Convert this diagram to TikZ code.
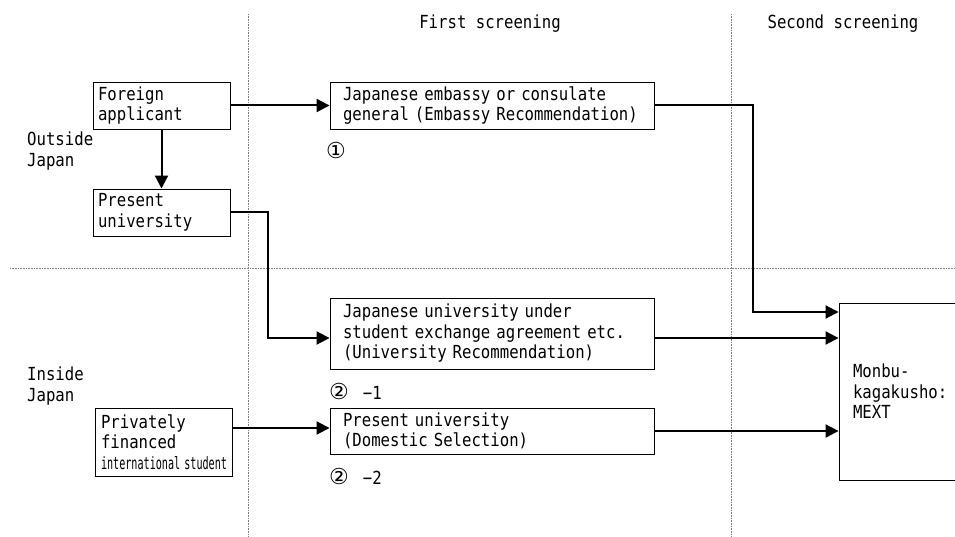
\documentclass[tikz,border=0pt]{standalone}
\usepackage{fontspec}
\usepackage{graphicx}
\setmainfont{DejaVu Sans Mono}[FakeStretch=0.87]
\newfontfamily\circfont{DejaVu Sans}
\usetikzlibrary{arrows.meta,calc}
\begin{document}
\begin{tikzpicture}[x=1pt,y=-1pt,
  every node/.style={font=\fontsize{18}{20.5}\selectfont},
  box/.style={draw, line width=0.9pt, inner ysep=0pt, align=left},
  arr/.style={line width=2pt, -{Triangle[length=13pt,width=13pt]}},
  sep/.style={draw=gray, line width=0.7pt, dash pattern=on 0.8pt off 0.8pt}]
\useasboundingbox (0,0) rectangle (955,537);
% separators
\draw[sep] (248,14) -- (248,537);
\draw[sep] (731,14) -- (731,537);
\draw[sep] (10,268) -- (955,268);
% headers
\node (h1) at (490,24) {First screening};
\node (h2) at (843,24) {Second screening};
\node[anchor=west, align=left, inner sep=0pt] (out) at (27,151) {Outside\\Japan};
\node[anchor=west, align=left, inner sep=0pt] (ins) at (27,386) {Inside\\Japan};
% boxes
\node[box, minimum width=137pt, minimum height=47pt, text width=127pt, inner xsep=5pt] (fa) at (161.5,105.5) {Foreign\\applicant};
\node[box, minimum width=137pt, minimum height=47pt, text width=127pt, inner xsep=5pt] (pu) at (161.5,212.5) {Present\\university};
\node[box, minimum width=137pt, minimum height=68pt, text width=125pt, inner xsep=6pt] (priv) at (163.5,442) {Privately\\financed\\\resizebox{126pt}{\height}{\fontsize{17}{20}\selectfont international student}};
\node[box, minimum width=324pt, minimum height=47pt, text width=298pt, inner xsep=13pt] (emb) at (492,105.5) {Japanese embassy or consulate\\general (Embassy Recommendation)};
\node[box, minimum width=324pt, minimum height=71pt, text width=298pt, inner xsep=13pt] (jpu) at (492,333.5) {Japanese university under\\student exchange agreement etc.\\(University Recommendation)};
\node[box, minimum width=324pt, minimum height=46pt, text width=298pt, inner xsep=13pt] (dom) at (492,431) {Present university\\(Domestic Selection)};
\node[box, minimum width=140pt, minimum height=177pt, text width=112pt, inner xsep=14pt] (mext) at (909,391.5) {Monbu-\\kagakusho:\\MEXT};
% labels
\node[anchor=west, inner sep=0pt] (l1) at (326,150) {{\circfont\fontsize{22}{22}\selectfont ①}};
\node[anchor=west, inner sep=0pt] (l2) at (329,391) {{\circfont\fontsize{22}{22}\selectfont ②}\hspace{14pt}−1};
\node[anchor=west, inner sep=0pt] (l3) at (329,476) {{\circfont\fontsize{22}{22}\selectfont ②}\hspace{14pt}−2};
% connectors
\draw[arr] (fa) -- (emb);
\draw[arr] (fa) -- (pu);
\coordinate (c1) at (268,338);
\draw[arr] (pu.east) -| (c1) -- (c1 -| jpu.west);
\coordinate (c2) at (753,312);
\draw[arr] (emb.east) -| (c2) -- (c2 -| mext.west);
\draw[arr] ([yshift=-4.5pt]jpu.east) -- ([yshift=-4.5pt]jpu.east -| mext.west);
\draw[arr] (dom.east) -- (dom.east -| mext.west);
\coordinate (c3) at ([yshift=3pt]dom.west);
\draw[arr] (c3 -| priv.east) -- (c3);
\end{tikzpicture}
\end{document}
